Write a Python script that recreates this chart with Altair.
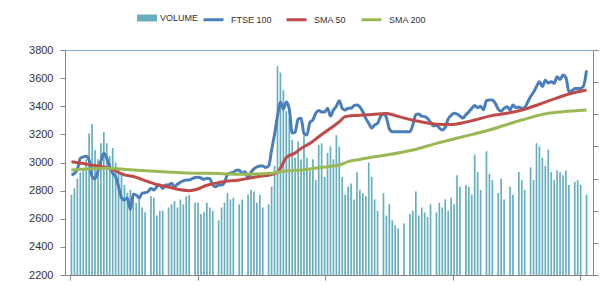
import altair as alt
import pandas as pd

# ---- data ----
volume = [
    2.5, 2.7, 3.0, 3.2, 3.3, 3.6, 4.4, 4.7, 3.9, 3.6,
    4.1, 4.45, 4.1, 3.7, 3.95, 3.5, 3.3, 3.2, 2.8, 2.55,
    2.65, 2.4, 2.25, 2.35, 2.1, 1.95, 0, 2.45, 2.4, 1.85,
    2.0, 2.0, 0, 2.1, 2.2, 2.3, 2.1, 2.35, 2.2, 2.45,
    2.5, 0, 2.25, 2.25, 1.9, 1.95, 2.25, 2.1, 2.0, 0,
    1.7, 2.1, 2.25, 2.55, 2.35, 2.4, 0, 2.2, 2.35, 0,
    2.5, 2.65, 2.6, 2.25, 2.5, 2.1, 0, 2.2, 2.75, 3.4,
    6.5, 6.3, 5.75, 5.1, 4.9, 4.2, 3.65, 4.15, 3.6, 4.35,
    3.65, 3.25, 3.6, 2.95, 4.05, 4.1, 3.05, 3.8, 4.0, 3.6,
    4.35, 4.0, 3.05, 2.5, 2.75, 2.85, 2.35, 3.2, 2.65, 2.55,
    2.45, 3.5, 3.05, 2.35, 2.0, 0, 2.55, 1.85, 2.2, 1.7,
    1.55, 1.45, 0, 1.6, 0, 1.9, 2.0, 2.6, 1.85, 2.1,
    1.95, 1.8, 2.2, 0, 1.95, 2.25, 2.1, 2.35, 2.0, 2.4,
    2.2, 3.1, 2.75, 0, 2.8, 2.75, 2.5, 3.75, 3.2, 2.65,
    0, 3.85, 3.15, 2.95, 0, 2.55, 3.0, 2.35, 0, 2.75,
    2.5, 0, 3.2, 2.95, 2.65, 0, 3.35, 2.95, 4.1, 4.0,
    3.65, 3.4, 3.9, 3.2, 2.95, 3.25, 3.2, 3.1, 3.25, 2.8,
    0, 2.9, 2.95, 2.8, 0, 2.5,
]

ftse = [
    2911, 2923, 2950, 3030, 3040, 3045, 3018, 2900, 2885, 2940,
    3010, 3066, 3030, 2970, 2924, 2900, 2828, 2750, 2733, 2747,
    2665, 2775, 2769, 2747, 2782, 2785, 2793, 2816, 2804, 2828,
    2840, 2816, 2840, 2840, 2852, 2828, 2845, 2860, 2870, 2876,
    2876, 2885, 2893, 2895, 2890, 2880, 2888, 2885, 2840, 2828,
    2840, 2840, 2858, 2915, 2925, 2930, 2945, 2945, 2923, 2935,
    2888, 2930, 2955, 2968, 2975, 2975, 2965, 2975, 3090, 3200,
    3330, 3430, 3380, 3430, 3380, 3210, 3215, 3310, 3314, 3207,
    3196, 3285, 3302, 3350, 3370, 3360, 3360, 3385, 3330, 3373,
    3400, 3440, 3385, 3373, 3385, 3385, 3405, 3409, 3395, 3361,
    3314, 3279, 3245, 3267, 3279, 3326, 3345, 3320, 3240, 3219,
    3219, 3219, 3219, 3219, 3219, 3219, 3270, 3340, 3345, 3330,
    3326, 3314, 3285, 3260, 3265, 3245, 3231, 3250, 3310, 3335,
    3350, 3345, 3330, 3316, 3340, 3360, 3385, 3405, 3390, 3400,
    3375, 3440, 3444, 3444, 3420, 3380, 3365, 3385, 3397, 3373,
    3409, 3390, 3395, 3385, 3390, 3430, 3470, 3500, 3540, 3575,
    3540, 3585, 3565, 3575, 3563, 3610, 3590, 3622, 3605, 3504,
    3510, 3527, 3527, 3527, 3545, 3655,
]

sma50_days = [0, 6, 13, 18, 21, 26, 30, 33, 37, 40, 42, 46, 51, 57, 62, 64, 68,
              70, 71, 73, 76, 78, 81, 84, 88, 91, 93, 97, 101, 107, 111, 116,
              120, 124, 129, 133, 137, 142, 148, 153, 159, 164, 170, 175]
sma50_vals = [3005, 2985, 2958, 2912, 2900, 2864, 2838, 2826, 2806, 2800, 2806,
              2838, 2862, 2876, 2895, 2902, 2915, 2930, 2960, 3035, 3068, 3100,
              3136, 3183, 3243, 3290, 3326, 3335, 3340, 3348, 3328, 3300, 3284,
              3272, 3270, 3282, 3302, 3330, 3350, 3373, 3414, 3452, 3492, 3515]

sma200_days = [0, 11, 21, 31, 43, 46, 57, 68, 71, 78, 84, 91, 94, 98, 101, 107,
               116, 124, 133, 142, 153, 162, 167, 175]
sma200_vals = [2947, 2959, 2947, 2935, 2923, 2923, 2916, 2923, 2935, 2947, 2963,
               2982, 3006, 3022, 3034, 3053, 3089, 3136, 3183, 3231, 3302, 3350,
               3361, 3373]

price_ticks = [2200, 2400, 2600, 2800, 3000, 3200, 3400, 3600, 3800]
volume_ticks = [0, 1, 2, 3, 4, 5, 6, 7]
date_ticks = [-0.5, 42.83, 86.17, 129.5, 172.83]

series_names = ["FTSE 100", "SMA 50", "SMA 200"]
line_colors = ["#4a7ebb", "#be4b48", "#98b954"]
bar_color = "#67aebf"

# ---- tables ----
vol_df = pd.DataFrame({"day": list(range(len(volume))), "volume": volume,
                       "series": "VOLUME"})
lines_df = pd.concat([
    pd.DataFrame({"day": list(range(len(ftse))), "value": ftse, "series": "FTSE 100"}),
    pd.DataFrame({"day": sma50_days, "value": sma50_vals, "series": "SMA 50"}),
    pd.DataFrame({"day": sma200_days, "value": sma200_vals, "series": "SMA 200"}),
], ignore_index=True)

xscale = alt.Scale(domain=[-0.5, 175.5], nice=False, zero=False)
xaxis = alt.Axis(values=date_ticks, labels=False, title=None, tickSize=5,
                 domainColor="#868686", tickColor="#868686")

bars = alt.Chart(vol_df).mark_bar(width=1.7).encode(
    x=alt.X("day:Q", scale=xscale, axis=xaxis),
    y=alt.Y("volume:Q", scale=alt.Scale(domain=[0, 7], nice=False),
            axis=alt.Axis(orient="right", values=volume_ticks, labels=False,
                          title=None, tickSize=5, grid=False)),
    fill=alt.Fill("series:N", scale=alt.Scale(domain=["VOLUME"], range=[bar_color]),
                  legend=alt.Legend(orient="none", legendX=72, legendY=-42,
                                    direction="horizontal", title=None,
                                    symbolType="M-1,-0.35H1V0.35H-1Z",
                                    symbolSize=400, symbolStrokeWidth=0,
                                    labelFont="Liberation Sans", labelFontSize=9,
                                    labelColor="#333333", labelOffset=3, padding=0)),
)

lines = alt.Chart(lines_df).mark_line(strokeWidth=3, interpolate="monotone").encode(
    x=alt.X("day:Q", scale=xscale, axis=xaxis),
    y=alt.Y("value:Q", scale=alt.Scale(domain=[2200, 3800], nice=False, zero=False),
            axis=alt.Axis(orient="left", values=price_ticks, format="d", title=None,
                          tickSize=5, labelPadding=7, grid=False)),
    stroke=alt.Stroke("series:N", scale=alt.Scale(domain=series_names, range=line_colors),
                      legend=alt.Legend(orient="none", legendX=137, legendY=-42,
                                        direction="horizontal", title=None,
                                        symbolType="stroke", symbolSize=400,
                                        symbolStrokeWidth=3, columnPadding=8,
                                        labelFont="Liberation Sans", labelFontSize=9,
                                        labelColor="#333333", labelOffset=6, padding=0)),
    detail="series:N",
)

chart = alt.layer(bars, lines).resolve_scale(y="independent").properties(
    width=528, height=225,
    autosize=alt.AutoSizeParams(type="none"),
    padding={"left": 57, "top": 42, "right": 12, "bottom": 6},
).configure_view(
    stroke="#7fa6d6", strokeWidth=1,
).configure_axis(
    domainColor="#868686", tickColor="#868686", grid=False,
    labelFont="Liberation Sans", labelFontSize=11, labelColor="#333333",
)

chart.save("out.html", embed_options={"renderer": "svg", "actions": False})
